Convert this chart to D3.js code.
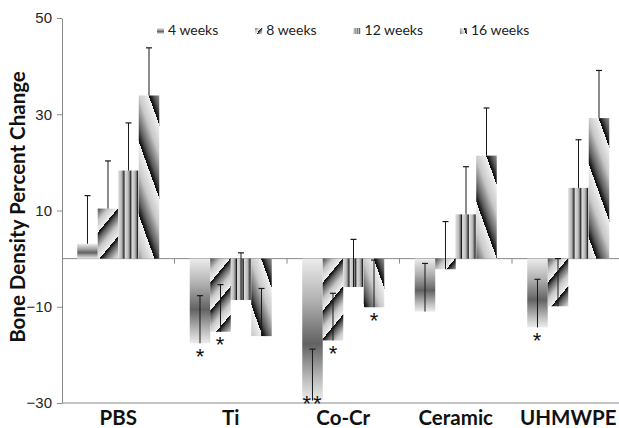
<!DOCTYPE html>
<html>
<head>
<meta charset="utf-8">
<script src="https://cdn.jsdelivr.net/npm/d3@7"></script>
<style>
  body { margin: 0; background: #fff; }
</style>
</head>
<body>
<svg id="chart"></svg>
<script>
// values
const categories = ["PBS", "Ti", "Co-Cr", "Ceramic", "UHMWPE"];
const series = ["4 weeks", "8 weeks", "12 weeks", "16 weeks"];

const week4  = [3.1, -17.6, -29.5, -11.0, -14.3];
const week8  = [10.4, -15.2, -17.0, -2.2, -9.9];
const week12 = [18.3, -8.6, -5.9, 9.2, 14.7];
const week16 = [33.9, -16.1, -10.1, 21.4, 29.2];

const err4  = [10.0, 9.9, 10.7, 10.0, 10.0];
const err8  = [9.9, 9.8, 9.8, 9.9, 9.9];
const err12 = [9.9, 9.8, 9.9, 9.9, 10.0];
const err16 = [9.9, 9.9, 9.8, 9.9, 9.9];

const sig4  = ["", "*", "**", "", "*"];
const sig8  = ["", "*", "*", "", ""];
const sig12 = ["", "", "", "", ""];
const sig16 = ["", "", "*", "", ""];

const yTicks = [-30, -10, 10, 30, 50];

const width = 619;
const height = 428;

const svg = d3.select('#chart')
  .attr('width', width)
  .attr('height', height);

const defs = svg.append('defs');

const y = d3.scaleLinear().domain([-30, 50]).range([403, 18]);
const x0 = d3.scaleBand().domain(categories).range([62, 624.5])
  .paddingInner(0.271).paddingOuter(0.1355);
const x1 = d3.scaleBand().domain(series).range([0, x0.bandwidth()]);

const values = [week4, week8, week12, week16];
const errors = [err4, err8, err12, err16];
const sigs = [sig4, sig8, sig12, sig16];

const bars = [];
categories.forEach((c, ci) => {
  series.forEach((s, si) => {
    bars.push({ c, s, si, id: ci + '_' + si, v: values[si][ci], e: errors[si][ci], sig: sigs[si][ci] });
  });
});

// one shared vertical gradient for 4 weeks
const g4 = defs.append('linearGradient').attr('id', 'g4')
  .attr('x1', 0).attr('y1', 0).attr('x2', 0).attr('y2', 1);
[[0, '#ececec'], [0.3, '#b0b0b0'], [0.6, '#626262'], [0.85, '#bdbdbd'], [1, '#ececec']]
  .forEach(s => g4.append('stop').attr('offset', s[0]).attr('stop-color', s[1]));

const saw = [[0, '#f0f0f0'], [0.4, '#c8c8c8'], [0.78, '#5e5e5e'], [0.97, '#101010'], [1, '#101010']];
const stripes = [[0, '#dcdcdc'], [0.45, '#bcbcbc'], [0.72, '#6a6a6a'], [0.85, '#1e1e1e'], [0.95, '#9a9a9a'], [1, '#dcdcdc']];

// gradient fill for a bar (or legend swatch) of a given series
function makeFill(id, si, x, top, w, k) {
  if (si === 0) return 'url(#g4)';
  const g = defs.append('linearGradient').attr('id', id)
    .attr('gradientUnits', 'userSpaceOnUse')
    .attr('spreadMethod', 'repeat');
  let stops = saw;
  if (si === 1) {
    const P = 18 * k, ux = -0.77, uy = -0.64;
    const sx = x - ux * P * 0.85, sy = top - uy * P * 0.85;
    g.attr('x1', sx).attr('y1', sy).attr('x2', sx + ux * P).attr('y2', sy + uy * P);
  } else if (si === 2) {
    const P = 6.8 * k;
    g.attr('x1', x).attr('y1', 0).attr('x2', x + P).attr('y2', 0);
    stops = stripes;
  } else {
    const P = 25 * k, ux = -0.94, uy = 0.34;
    const sx = x + w - ux * P * 0.6, sy = top - uy * P * 0.6;
    g.attr('x1', sx).attr('y1', sy).attr('x2', sx + ux * P).attr('y2', sy + uy * P);
  }
  stops.forEach(s => g.append('stop').attr('offset', s[0]).attr('stop-color', s[1]));
  return `url(#${id})`;
}

// y axis
const yAxis = svg.append('g')
  .attr('transform', 'translate(62,0)')
  .call(d3.axisLeft(y).tickValues(yTicks).tickSize(5).tickSizeOuter(0).tickPadding(5));
yAxis.select('.domain').attr('stroke', '#8a8a8a');
yAxis.selectAll('.tick line').attr('stroke', '#8a8a8a');
yAxis.selectAll('.tick text')
  .style('font-family', '"Liberation Sans", Arial, sans-serif')
  .style('font-size', '15px')
  .attr('fill', '#262626');

// bottom axis with category labels
const xAxis = svg.append('g')
  .attr('transform', 'translate(0,403)')
  .call(d3.axisBottom(x0).tickSize(0).tickPadding(7));
xAxis.select('.domain').attr('d', 'M62,0H619').attr('stroke', '#8a8a8a');
xAxis.selectAll('.tick text')
  .style('font-family', 'Lato, sans-serif')
  .style('font-weight', 'bold')
  .style('font-size', '20.5px')
  .attr('fill', '#111');

// zero line and category separators
svg.append('line')
  .attr('x1', 62).attr('x2', 619)
  .attr('y1', y(0)).attr('y2', y(0))
  .attr('stroke', '#8a8a8a');
svg.selectAll('.sep')
  .data(categories.slice(1))
  .enter()
  .append('line')
  .attr('class', 'sep')
  .attr('x1', d => x0(d) - x0.step() * x0.paddingInner() / 2)
  .attr('x2', d => x0(d) - x0.step() * x0.paddingInner() / 2)
  .attr('y1', y(0)).attr('y2', y(0) + 5)
  .attr('stroke', '#8a8a8a');

// bars
svg.selectAll('.bar')
  .data(bars)
  .enter()
  .append('rect')
  .attr('class', 'bar')
  .attr('x', d => x0(d.c) + x1(d.s))
  .attr('y', d => y(Math.max(0, d.v)))
  .attr('width', x1.bandwidth())
  .attr('height', d => Math.abs(y(d.v) - y(0)))
  .attr('fill', d => makeFill('b' + d.id, d.si, x0(d.c) + x1(d.s), y(Math.max(0, d.v)), x1.bandwidth(), 1));

// error bars, always drawn upwards from the bar end
const eb = svg.selectAll('.err')
  .data(bars)
  .enter()
  .append('g')
  .attr('class', 'err')
  .attr('transform', d => `translate(${x0(d.c) + x1(d.s) + x1.bandwidth() / 2},0)`);
eb.append('line')
  .attr('y1', d => y(d.v)).attr('y2', d => y(d.v + d.e))
  .attr('stroke', '#1a1a1a').attr('stroke-width', 1);
eb.append('line')
  .attr('x1', -3).attr('x2', 3)
  .attr('y1', d => y(d.v + d.e)).attr('y2', d => y(d.v + d.e))
  .attr('stroke', '#1a1a1a').attr('stroke-width', 1.2);

// significance marks
svg.selectAll('.sig')
  .data(bars.filter(d => d.sig))
  .enter()
  .append('text')
  .attr('class', 'sig')
  .attr('x', d => Math.round(x0(d.c) + x1(d.s) + x1.bandwidth() / 2 + (d.sig.length > 1 ? 1 : 0)))
  .attr('y', d => Math.round(Math.min(y(d.v) + 8, 398) + 12.5))
  .attr('text-anchor', 'middle')
  .style('font-family', '"Liberation Sans", Arial, sans-serif')
  .style('font-size', '22px')
  .style('letter-spacing', d => d.sig.length > 1 ? '2px' : '0px')
  .attr('fill', '#111')
  .text(d => d.sig);

// y title
svg.append('text')
  .attr('transform', 'translate(25,207) rotate(-90)')
  .attr('text-anchor', 'middle')
  .style('font-family', 'Lato, sans-serif')
  .style('font-weight', 'bold')
  .style('font-size', '20.5px')
  .attr('fill', '#111')
  .text('Bone Density Percent Change');

// legend
let lx = 157;
series.forEach((s, si) => {
  svg.append('rect')
    .attr('x', lx).attr('y', 28)
    .attr('width', 7).attr('height', 6)
    .attr('fill', makeFill('lg' + si, si, lx, 28, 7, 0.3));
  const t = svg.append('text')
    .attr('x', lx + 11).attr('y', 35)
    .style('font-family', 'Lato, sans-serif')
    .style('font-size', '14px')
    .attr('fill', '#222')
    .text(s);
  lx += 11 + t.node().getComputedTextLength() + 37;
});
</script>
</body>
</html>
